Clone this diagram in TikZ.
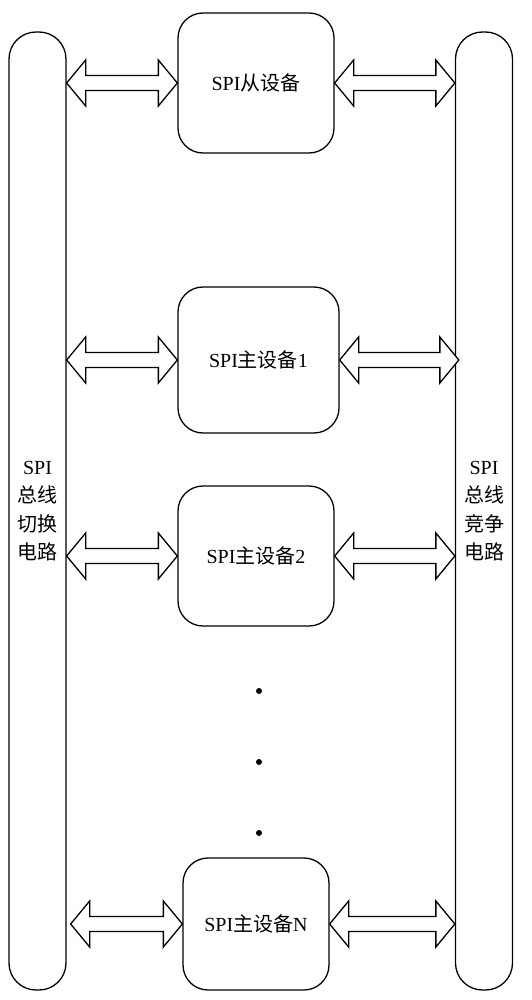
\documentclass[tikz,border=0pt]{standalone}
\usepackage{fontspec}
\setmainfont{Liberation Serif}
\newfontfamily\cjk{Noto Sans CJK SC}
\usetikzlibrary{calc}
\tikzset{
  bar/.style={draw, line width=1.3pt, rounded corners=27pt, minimum width=57pt, minimum height=958pt, inner sep=0pt},
  dev/.style={draw, line width=1.3pt, rounded corners=25pt, inner sep=0pt, font=\fontsize{20}{24}\selectfont},
  bartext/.style={align=center, font=\fontsize{20}{28.5}\selectfont},
  bus/.style={draw, line width=1.3pt, fill=white, line join=miter},
  dotm/.style={fill=black, draw=none},
}
\newcommand{\busarrow}[2]{%
  \path[bus] let \p1=#1, \p2=#2 in
    (\x1,\y1) -- (\x1+19pt,\y1+23pt) -- (\x1+19pt,\y1+7.5pt) -- (\x2-19pt,\y2+7.5pt) -- (\x2-19pt,\y2+23pt) -- (\x2,\y2)
    -- (\x2-19pt,\y2-23pt) -- (\x2-19pt,\y2-7.5pt) -- (\x1+19pt,\y1-7.5pt) -- (\x1+19pt,\y1-23pt) -- cycle;}
\begin{document}
\begin{tikzpicture}[x=1pt,y=-1pt]
\useasboundingbox (0,0) rectangle (532,1000);
\node[bar] (L) at (37.5,511) {};
\node[bar] (R) at (484,511) {};
\node[bartext] (Lt) at (37.5,511) {SPI\\{\cjk 总线}\\{\cjk 切换}\\{\cjk 电路}};
\node[bartext] (Rt) at (484,511) {SPI\\{\cjk 总线}\\{\cjk 竞争}\\{\cjk 电路}};
\node[dev, minimum width=156pt, minimum height=140pt] (S) at (256,83) {SPI{\cjk 从设备}};
\node[dev, minimum width=161pt, minimum height=146pt] (M1) at (258.5,360) {SPI{\cjk 主设备}1};
\node[dev, minimum width=156pt, minimum height=140pt] (M2) at (256,556) {SPI{\cjk 主设备}2};
\node[dev, minimum width=146pt, minimum height=132pt] (MN) at (256,924) {SPI{\cjk 主设备}N};
\busarrow{(L.east |- S.west)}{(S.west)}
\busarrow{(S.east)}{(R.west |- S.east)}
\busarrow{(L.east |- M1.west)}{(M1.west)}
\busarrow{(M1.east)}{([xshift=4pt]R.west |- M1.east)}
\busarrow{(L.east |- M2.west)}{(M2.west)}
\busarrow{(M2.east)}{(R.west |- M2.east)}
\busarrow{([xshift=4pt]L.east |- MN.west)}{(MN.west)}
\busarrow{(MN.east)}{(R.west |- MN.east)}
\fill[dotm] (259,691) circle (3pt) (259,762) circle (3pt) (259,833) circle (3pt);
\end{tikzpicture}
\end{document}
